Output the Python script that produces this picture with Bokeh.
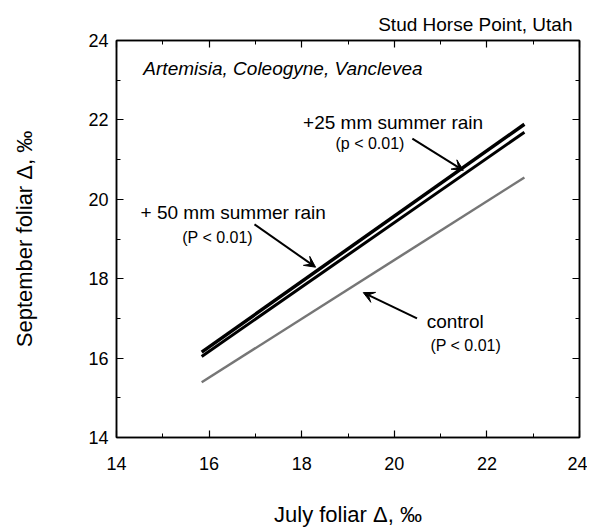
from bokeh.plotting import figure
from bokeh.models import (Label, Arrow, VeeHead, LinearAxis, SingleIntervalTicker,
                          Range1d, CustomJSTickFormatter)
from bokeh.embed import file_html
from bokeh.resources import INLINE

# ---- data ----
x_ends = [15.84, 22.81]                 # July foliar Δ (‰), start / end of each fit
rain25_y = [16.15, 21.89]               # +25 mm summer rain
rain50_y = [16.04, 21.69]               # +50 mm summer rain
control_y = [15.39, 20.55]              # control
x_ticks = [14, 16, 18, 20, 22, 24]
y_ticks = [14, 16, 18, 20, 22, 24]

FONT = "Liberation Sans"

p = figure(frame_width=463, frame_height=397, output_backend="svg",
           toolbar_location=None,
           x_range=Range1d(14, 24), y_range=Range1d(14, 24),
           min_border_left=116, min_border_right=8, min_border_top=40,
           min_border_bottom=84)
p.xgrid.visible = False
p.ygrid.visible = False
p.outline_line_color = "black"
p.outline_line_width = 1.5
p.background_fill_color = "white"
p.border_fill_color = "white"

p.title.text = "Stud Horse Point, Utah"
p.title.align = "right"
p.title.text_font = FONT
p.title.text_font_size = "19px"
p.title.text_font_style = "normal"
p.title.text_color = "black"
p.title.offset = 7
p.title.standoff = 12

def style_axis(ax, labels=True):
    ax.ticker = SingleIntervalTicker(interval=2, num_minor_ticks=2)
    ax.axis_line_color = "black"
    ax.axis_line_width = 1.5
    ax.major_tick_in = 7
    ax.major_tick_out = 0
    ax.minor_tick_in = 4
    ax.minor_tick_out = 0
    ax.major_tick_line_color = "black"
    ax.minor_tick_line_color = "black"
    ax.major_tick_line_width = 1.2
    ax.minor_tick_line_width = 1.0
    ax.major_label_text_font = FONT
    ax.major_label_text_font_size = "18px"
    ax.major_label_text_color = "black"
    ax.axis_label_text_font = FONT
    ax.axis_label_text_font_size = "22px"
    ax.axis_label_text_font_style = "normal"
    ax.axis_label_text_color = "black"
    if not labels:
        ax.formatter = CustomJSTickFormatter(code="return ''")
        ax.major_label_standoff = 0

style_axis(p.xaxis[0])
style_axis(p.yaxis[0])
p.xaxis[0].major_label_standoff = 19
p.yaxis[0].major_label_standoff = 8
p.xaxis[0].axis_label = "July foliar Δ, ‰"
p.yaxis[0].axis_label = "September foliar Δ, ‰"
p.xaxis[0].axis_label_standoff = 29
p.yaxis[0].axis_label_standoff = 48

ax_top = LinearAxis()
ax_right = LinearAxis()
style_axis(ax_top, labels=False)
style_axis(ax_right, labels=False)
p.add_layout(ax_top, "above")
p.add_layout(ax_right, "right")

# ---- regression lines ----
p.line(x_ends, control_y, line_color="#767676", line_width=2.5)
p.line(x_ends, rain50_y, line_color="black", line_width=3)
p.line(x_ends, rain25_y, line_color="black", line_width=3.5)

# ---- arrows ----
def arrow(x0, y0, x1, y1):
    p.add_layout(Arrow(x_start=x0, y_start=y0, x_end=x1, y_end=y1,
                       line_color="black", line_width=2,
                       end=VeeHead(size=11, fill_color="black", line_color="black",
                                   line_width=1)))

arrow(16.98, 19.37, 18.30, 18.29)
arrow(20.39, 21.53, 21.49, 20.73)
arrow(20.49, 17.00, 19.33, 17.65)

# ---- texts ----
def text(x, y, s, size="19px", style="normal", align="left", baseline="middle"):
    p.add_layout(Label(x=x, y=y, text=s, text_font=FONT, text_font_size=size,
                       text_font_style=style, text_align=align,
                       text_baseline=baseline, text_color="black"))

text(14.58, 23.29, "Artemisia, Coleogyne, Vanclevea", style="italic")
text(18.03, 21.94, "+25 mm summer rain")
text(18.73, 21.41, "(p < 0.01)", size="16px")
text(14.52, 19.68, "+ 50 mm summer rain")
text(15.42, 19.05, "(P < 0.01)", size="16px")
text(20.70, 16.93, "control")
text(20.78, 16.32, "(P < 0.01)", size="16px")

open("out.html", "w").write(file_html(p, INLINE))
